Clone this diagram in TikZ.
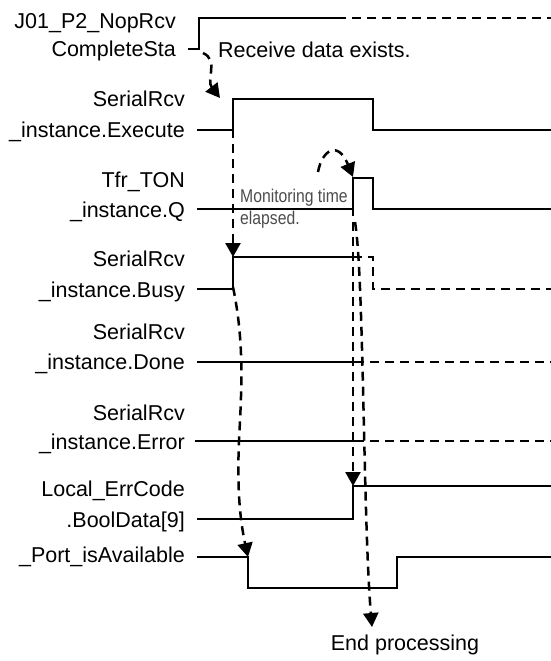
\documentclass[tikz,border=0pt]{standalone}
\usepackage{fontspec}
\setmainfont{Liberation Sans}
\newfontfamily\narrowfont[FakeStretch=0.85]{Liberation Sans}
\usetikzlibrary{arrows.meta}

\begin{document}
\begin{tikzpicture}[
  x=1pt, y=-1pt,
  lbl/.style={anchor=base east, inner sep=0pt, font=\fontsize{21.5}{25}\selectfont},
  note/.style={anchor=base west, inner sep=0pt, font=\fontsize{21.5}{25}\selectfont},
  small/.style={anchor=base west, inner sep=0pt, text=black!70,
                font=\narrowfont\fontsize{18.5}{22}\selectfont},
  sig/.style={line width=1.6pt},
  sigdash/.style={line width=1.6pt, dash pattern=on 9pt off 6pt},
  flow/.style={line width=2.5pt, dash pattern=on 9pt off 6pt,
               -{Triangle[length=14pt, width=15pt]}}
]
\useasboundingbox (0,0) rectangle (551,661);

% signal names
\node[lbl] (cmpA) at (176,29) {J01\_P2\_NopRcv};
\node[lbl] (cmpB) at (176,57) {CompleteSta};
\node[lbl] (exeA) at (185,106.5) {SerialRcv};
\node[lbl] (exeB) at (185,137) {\_instance.Execute};
\node[lbl] (tonA) at (185,187) {Tfr\_TON};
\node[lbl] (tonB) at (185,217) {\_instance.Q};
\node[lbl] (bsyA) at (185,266.5) {SerialRcv};
\node[lbl] (bsyB) at (185,297.5) {\_instance.Busy};
\node[lbl] (dneA) at (185,339.5) {SerialRcv};
\node[lbl] (dneB) at (185,369.5) {\_instance.Done};
\node[lbl] (errA) at (185,420) {SerialRcv};
\node[lbl] (errB) at (185,449.5) {\_instance.Error};
\node[lbl] (bitA) at (185,496) {Local\_ErrCode};
\node[lbl] (bitB) at (185,527.5) {.BoolData[9]};
\node[lbl] (port) at (185,562.5) {\_Port\_isAvailable};

% waveforms
\coordinate (cmpUp) at (199,49);
\draw[sig] (188,49) -- (cmpUp) -- (199,18) -- (337,18);
\draw[sigdash] (337,18) -- (551,18);

\coordinate (exeUp) at (233,130);
\draw[sig] (197,130) -- (exeUp) -- (233,99) -- (373,99) -- (373,130) -- (551,130);

\coordinate (tonUp) at (353,209);
\draw[sig] (197,209) -- (tonUp) -- (353,178) -- (373,178) -- (373,209) -- (551,209);

\coordinate (bsyUp) at (233,289);
\draw[sig] (197,289) -- (bsyUp) -- (233,257) -- (353,257);
\draw[sigdash] (353,257) -- (373,257) -- (373,289) -- (551,289);

\draw[sig] (197,362) -- (355,362);
\draw[sigdash] (355,362) -- (551,362);

\draw[sig] (195,441) -- (355,441);
\draw[sigdash] (355,441) -- (551,441);

\coordinate (bitUp) at (353,486);
\draw[sig] (197,519) -- (353,519) -- (bitUp) -- (551,486);

\coordinate (portDn) at (248,557);
\draw[sig] (197,557) -- (portDn) -- (248,588) -- (397,588) -- (397,557) -- (551,557);

% notes
\node[note] (rcvNote) at (218,57.5) {Receive data exists.};
\node[small] (monA) at (240,202) {Monitoring time};
\node[small] (monB) at (240,224) {elapsed.};
\node[lbl, anchor=base] (endNote) at (405,650.5) {End processing};
\coordinate (endTip) at (372,627);

% flow of processing
\draw[flow] (203,53) .. controls (219,60) and (206,80) .. (220,98);
\draw[flow] ([yshift=1pt]exeUp) -- (bsyUp |- 0,257);
\draw[flow] (318,172) .. controls (322,150) and (338,140) .. (353,177);
\draw[flow] ([yshift=2pt]tonUp) -- (bitUp);
\draw[flow] (355,222) .. controls (364,275) and (363,520) .. (endTip);
\draw[flow] ([yshift=2pt]bsyUp) .. controls (244,340) and (242,385) .. (239,440)
  .. controls (237,490) and (240,520) .. (portDn);
\end{tikzpicture}
\end{document}
